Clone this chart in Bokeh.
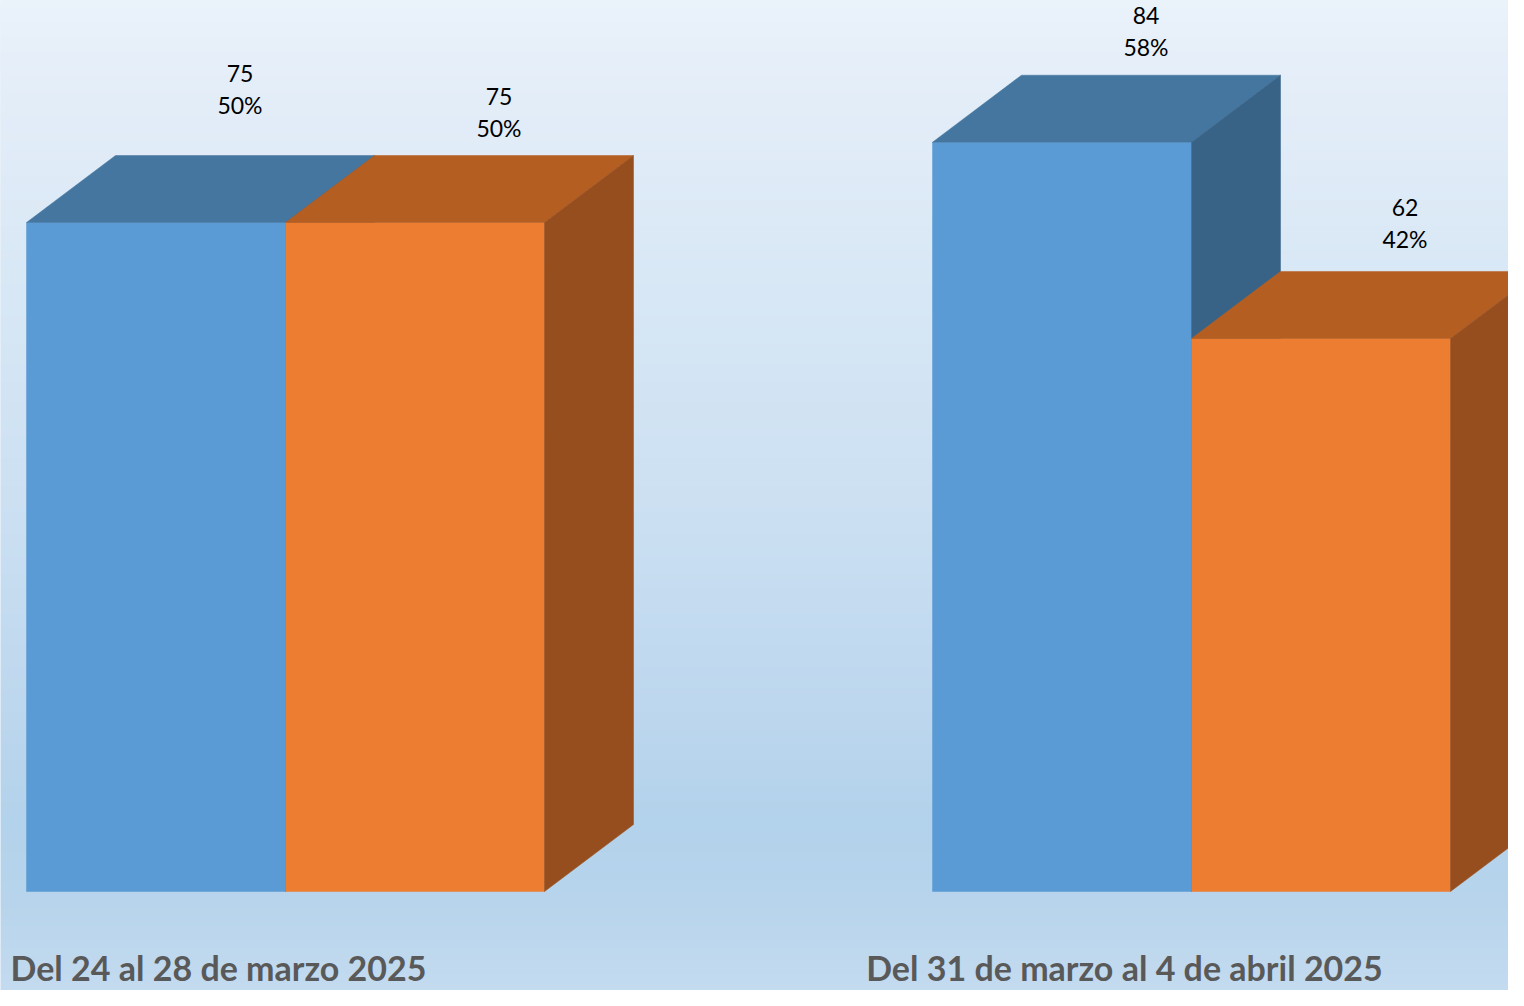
import numpy as np
from bokeh.plotting import figure
from bokeh.models import Range1d, ColumnDataSource
from bokeh.core.properties import value
from bokeh.embed import file_html
from bokeh.resources import INLINE

# ---------------- data ----------------
categories = ["Del 24 al 28 de marzo 2025", "Del 31 de marzo al 4 de abril 2025"]
series_a = [75, 84]          # blue bars
series_b = [75, 62]          # orange bars
pct_a = [50, 58]
pct_b = [50, 42]

# ---------------- style ----------------
W, H = 1508, 990
PX_PER_GROUP = 906.0          # pixels between group centres
PX_PER_UNIT = 8.92            # pixels per value unit
BAR_W = 259.0 / PX_PER_GROUP  # bar width in group units
DEPTH_X = 89.0 / PX_PER_GROUP
DEPTH_Y = 67.0 / PX_PER_UNIT
X0_PX = 285.0                 # pixel of first group centre
Y0_PX = 891.0                 # pixel (from top) of value 0

colors = {
    "a": ("#5B9BD5", "#44769F", "#386387"),
    "b": ("#ED7D31", "#B45E22", "#974E1E"),
}
label_gap = {"a": [36, 14], "b": [13, 18]}
FONT = "Lato"

x_start = -X0_PX / PX_PER_GROUP
x_end = (W - X0_PX) / PX_PER_GROUP
y_end = Y0_PX / PX_PER_UNIT
y_start = (Y0_PX - H) / PX_PER_UNIT

p = figure(width=W, height=H, output_backend="svg", toolbar_location=None,
           x_range=Range1d(x_start, x_end), y_range=Range1d(y_start, y_end),
           min_border=0)
p.axis.visible = False
p.grid.visible = False
p.outline_line_color = None
p.background_fill_color = "#D6E6F5"
p.border_fill_color = "#D6E6F5"

# background vertical gradient (top -> bottom, reference pixel rows)
stops_px = [0, 100, 300, 500, 700, 820, 900, 1006]
stops_col = ["#EAF2FA", "#E3EDF8", "#D7E7F5", "#CCE0F2", "#BDD7EE", "#B3D2EB", "#B7D4EC", "#C6DCF0"]
def hex2rgb(h):
    return [int(h[i:i + 2], 16) for i in (1, 3, 5)]
rows = np.arange(H)
rgb = np.array([hex2rgb(c) for c in stops_col], dtype=float)
chan = [np.interp(rows, stops_px, rgb[:, k]) for k in range(3)]
img = np.empty((H, 2), dtype=np.uint32)
view = img.view(dtype=np.uint8).reshape((H, 2, 4))
for k in range(3):
    view[:, :, k] = np.round(chan[k])[:, None].astype(np.uint8)
view[:, :, 3] = 255
img = img[::-1]  # row 0 at bottom
p.image_rgba(image=[img], x=x_start, y=y_start, dw=x_end - x_start, dh=y_end - y_start)

# ---------------- bars ----------------
def draw_bar(left, val, key):
    front, top, side = colors[key]
    right = left + BAR_W
    p.quad(left=[left], right=[right], bottom=[0], top=[val], fill_color=front,
           line_color=front, line_width=0.5)
    p.patch([left, right, right + DEPTH_X, left + DEPTH_X],
            [val, val, val + DEPTH_Y, val + DEPTH_Y],
            fill_color=top, line_color=top, line_width=0.5)
    p.patch([right, right + DEPTH_X, right + DEPTH_X, right],
            [0, DEPTH_Y, val + DEPTH_Y, val],
            fill_color=side, line_color=side, line_width=0.5)

for g in range(len(categories)):
    draw_bar(g - BAR_W, series_a[g], "a")
    draw_bar(g, series_b[g], "b")

# ---------------- value labels ----------------
lx, ly, lt, lo = [], [], [], []
for g in range(len(categories)):
    for key, vals, pcts, off in (("a", series_a, pct_a, -BAR_W / 2), ("b", series_b, pct_b, BAR_W / 2)):
        lx.append(g + off + DEPTH_X)
        ly.append(vals[g] + DEPTH_Y)
        lt.append(f"{vals[g]}\n{pcts[g]}%")
        lo.append(-label_gap[key][g])
src = ColumnDataSource(dict(x=lx, y=ly, text=lt, yo=lo))
p.text(x="x", y="y", text="text", y_offset="yo", x_offset=-5, source=src,
       text_font=value(FONT), text_font_size="23px", text_color="#000000",
       text_align="center", text_baseline="bottom", text_line_height=1.15)

# ---------------- category labels ----------------
csrc = ColumnDataSource(dict(x=list(range(len(categories))), y=[y_start] * len(categories), text=categories))
p.text(x="x", y="y", text="text", source=csrc, x_offset=-67, y_offset=-3,
       text_font=value(FONT), text_font_size="34px", text_font_style="bold",
       text_color="#595959", text_align="center", text_baseline="bottom")

open("out.html", "w").write(file_html(p, INLINE))
